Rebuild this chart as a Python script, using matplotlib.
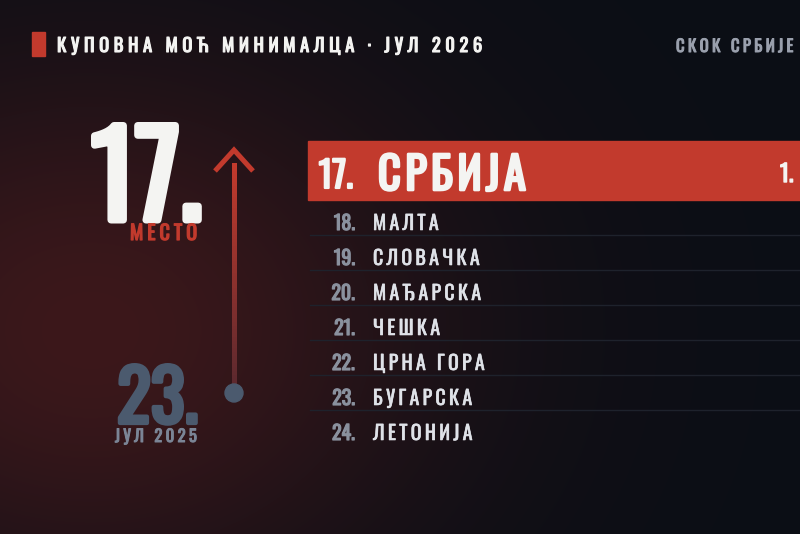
import numpy as np
import matplotlib
matplotlib.use("Agg")
import matplotlib.pyplot as plt
import matplotlib.patheffects as pe
from matplotlib.collections import LineCollection

# --- data ---
ranks = [17, 18, 19, 20, 21, 22, 23, 24]
countries = ["СРБИЈА", "МАЛТА", "СЛОВАЧКА", "МАЂАРСКА", "ЧЕШКА",
             "ЦРНА ГОРА", "БУГАРСКА", "ЛЕТОНИЈА"]
rank_now = 17
rank_prev = 23
label_now = "МЕСТО"
label_prev = "ЈУЛ 2025"
title = "КУПОВНА МОЋ МИНИМАЛЦА · ЈУЛ 2026"
subtitle = "СКОК СРБИЈЕ"
value_label = "1."

# Oswald is only here as a variable font (regular), so bold is faked with a stroke
FAMILY = ["Oswald", "DejaVu Sans"]
HAIR, SIXTH, THIN, QUARTER = "\u200a", "\u2006", "\u2009", "\u2005"

NAVY = np.array([11, 14, 21]) / 255
GLOW = np.array([60, 24, 27]) / 255
RED = "#c23a2d"
WHITE = "#f4f4f2"
STEEL = "#4b5a6e"
GREY = "#8a919e"
LIGHT = "#dfe2e8"


def track(s, sp):
    return sp.join(s)


def label(ax, x, y, s, size, color, ha="left", bold=0.06):
    fx = [pe.withStroke(linewidth=size * bold, foreground=color)] if bold else None
    return ax.text(x, y, s, color=color, fontsize=size, family=FAMILY,
                   va="baseline", ha=ha, zorder=3, path_effects=fx)


W, H = 800, 534
fig = plt.figure(figsize=(W / 100, H / 100), dpi=100)
ax = fig.add_axes([0, 0, 1, 1])
ax.set_xlim(0, W)
ax.set_ylim(H, 0)
ax.axis("off")

# background glow
yy, xx = np.mgrid[0:H, 0:W]
w = np.exp(-(((xx - 90) / 240.0) ** 2 + ((yy - 330) / 190.0) ** 2) / 2.0)
bg = NAVY[None, None, :] * (1 - w[..., None]) + GLOW[None, None, :] * w[..., None]
ax.imshow(bg, extent=(0, W, H, 0), zorder=0, interpolation="bilinear")

# header
ax.add_patch(plt.Rectangle((32, 32), 13, 24, color=RED, zorder=2))
label(ax, 57, 52, track(title, QUARTER), 13.3, WHITE)
label(ax, 676, 52, track(subtitle, THIN), 12, "#9aa0ad")

# big ranks on the left
label(ax, 202, 220, f"{rank_now}.", 84, WHITE, ha="right")
label(ax, 197, 240, track(label_now, THIN), 14.5, RED, ha="right")
label(ax, 198, 423, f"{rank_prev}.", 51, STEEL, ha="right")
label(ax, 197, 442, track(label_prev, THIN), 12, "#7b8596", ha="right")

# arrow: gradient shaft, chevron head, dot at the old rank
ax_x = 234
ys = np.linspace(165, 388, 60)
segs = [[(ax_x, ys[i]), (ax_x, ys[i + 1])] for i in range(len(ys) - 1)]
top_c = np.array(matplotlib.colors.to_rgb(RED))
bot_c = np.array([0.36, 0.16, 0.18])
t = np.linspace(0, 1, len(segs))[:, None]
ax.add_collection(LineCollection(segs, colors=top_c * (1 - t) + bot_c * t,
                                 linewidths=3.4, capstyle="projecting",
                                 antialiased=False, zorder=3))
ax.plot([ax_x - 19, ax_x, ax_x + 19], [171, 150, 171], color=RED, lw=3.6,
        solid_capstyle="butt", solid_joinstyle="miter", zorder=3)
ax.add_patch(plt.Circle((ax_x, 393), 9, color=STEEL, zorder=4))

# ranking list
row_h = 35
list_top = 200
ax.add_patch(plt.Rectangle((308, 141), W - 308, 59, color=RED, zorder=2))
label(ax, 353, 188, f"{ranks[0]}.", 26, WHITE, ha="right")
label(ax, 378, 190, track(countries[0], HAIR), 32, WHITE)
label(ax, 780, 182, value_label, 17, WHITE)

for i, (r, c) in enumerate(zip(ranks[1:], countries[1:])):
    top = list_top + i * row_h
    base = top + 30
    label(ax, 355, base, f"{r}.", 14.3, GREY, ha="right")
    label(ax, 373, base, track(c, SIXTH), 14.3, LIGHT, bold=0.03)
    if i < len(ranks) - 2:
        ax.plot([310, W], [top + row_h, top + row_h], color="#1e222c", lw=1, zorder=1)

fig.savefig("out.png", dpi=100)
